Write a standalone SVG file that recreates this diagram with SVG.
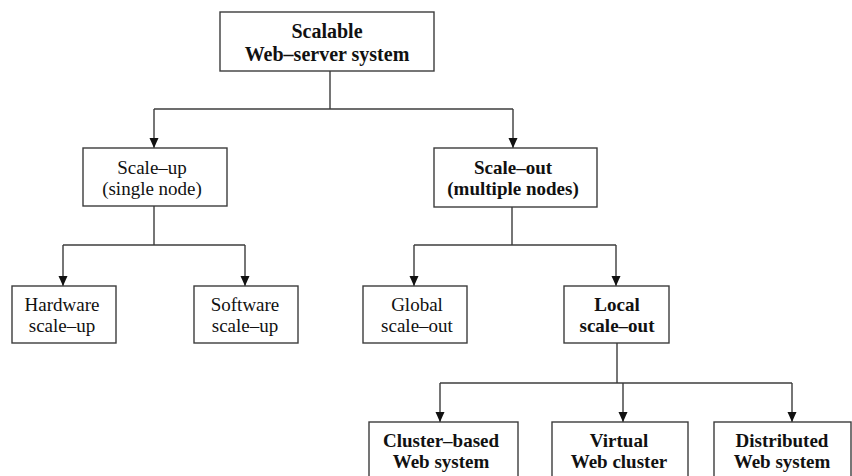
<svg xmlns="http://www.w3.org/2000/svg" width="852" height="476" viewBox="0 0 852 476">
  <style>
    .box { fill: #ffffff; stroke: #3c3c3c; stroke-width: 1.4; }
    .t { font-family: "Liberation Serif", "Times New Roman", serif; font-size: 19px; fill: #111111; text-anchor: middle; }
    .b { font-weight: bold; }
    .big { font-size: 20px; }
    .edge { fill: none; stroke: #3c3c3c; stroke-width: 1.4; }
  </style>
  <defs>
    <marker id="arrow" viewBox="0 0 10 12" refX="10" refY="6" markerWidth="10" markerHeight="12" markerUnits="userSpaceOnUse" orient="auto">
      <path d="M0,1.5 L10,6 L0,10.5 Z" fill="#111111"/>
    </marker>
  </defs>
  <rect width="852" height="476" fill="#ffffff"/>

  <g id="connectors">
    <!-- root to second level -->
    <path class="edge" d="M330,71 V109"/>
    <path class="edge" d="M154,109 H513"/>
    <path class="edge" d="M154,109 V148" marker-end="url(#arrow)"/>
    <path class="edge" d="M513,109 V148" marker-end="url(#arrow)"/>
    <!-- scale-up branches -->
    <path class="edge" d="M154,206 V245"/>
    <path class="edge" d="M63,245 H245"/>
    <path class="edge" d="M63,245 V286" marker-end="url(#arrow)"/>
    <path class="edge" d="M245,245 V286" marker-end="url(#arrow)"/>
    <!-- scale-out branches -->
    <path class="edge" d="M512,207 V245"/>
    <path class="edge" d="M414,245 H616"/>
    <path class="edge" d="M414,245 V286" marker-end="url(#arrow)"/>
    <path class="edge" d="M616,245 V286" marker-end="url(#arrow)"/>
    <!-- local scale-out branches -->
    <path class="edge" d="M617,343 V383"/>
    <path class="edge" d="M440,383 H792"/>
    <path class="edge" d="M440,383 V422" marker-end="url(#arrow)"/>
    <path class="edge" d="M623,383 V422" marker-end="url(#arrow)"/>
    <path class="edge" d="M792,383 V422" marker-end="url(#arrow)"/>
  </g>

  <g id="scalable-system">
    <rect class="box" x="220" y="12" width="214" height="59"/>
    <text class="t b big" x="327" y="38">Scalable</text>
    <text class="t b big" x="327" y="61">Web–server system</text>
  </g>

  <g id="scale-up">
    <rect class="box" x="83" y="148" width="144" height="58"/>
    <text class="t" x="152" y="174">Scale–up</text>
    <text class="t" x="152" y="195">(single node)</text>
  </g>

  <g id="scale-out">
    <rect class="box" x="434" y="148" width="163" height="59"/>
    <text class="t b" x="513" y="174">Scale–out</text>
    <text class="t b" x="513" y="195">(multiple nodes)</text>
  </g>

  <g id="hardware-scale-up">
    <rect class="box" x="12" y="286" width="104" height="57"/>
    <text class="t" x="62" y="311">Hardware</text>
    <text class="t" x="62" y="332">scale–up</text>
  </g>

  <g id="software-scale-up">
    <rect class="box" x="194" y="286" width="104" height="57"/>
    <text class="t" x="245" y="311">Software</text>
    <text class="t" x="245" y="332">scale–up</text>
  </g>

  <g id="global-scale-out">
    <rect class="box" x="363" y="286" width="104" height="57"/>
    <text class="t" x="417" y="311">Global</text>
    <text class="t" x="417" y="332">scale–out</text>
  </g>

  <g id="local-scale-out">
    <rect class="box" x="564" y="286" width="105" height="57"/>
    <text class="t b" x="617" y="311">Local</text>
    <text class="t b" x="617" y="332">scale–out</text>
  </g>

  <g id="cluster-based">
    <rect class="box" x="369" y="422" width="149" height="60"/>
    <text class="t b" x="441" y="447">Cluster–based</text>
    <text class="t b" x="441" y="468">Web system</text>
  </g>

  <g id="virtual-cluster">
    <rect class="box" x="552" y="422" width="136" height="60"/>
    <text class="t b" x="619" y="447">Virtual</text>
    <text class="t b" x="619" y="468">Web cluster</text>
  </g>

  <g id="distributed-system">
    <rect class="box" x="714" y="422" width="137" height="60"/>
    <text class="t b" x="782" y="447">Distributed</text>
    <text class="t b" x="782" y="468">Web system</text>
  </g>
</svg>
